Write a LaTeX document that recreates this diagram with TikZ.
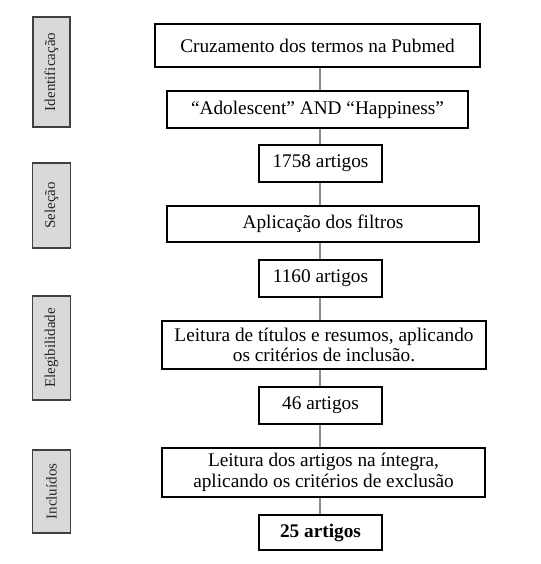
\documentclass[tikz,border=0pt]{standalone}
\usepackage{fontspec}
\setmainfont{Liberation Serif}
\definecolor{linkc}{RGB}{125,140,158}
\begin{document}
\begin{tikzpicture}[x=1pt,y=-1pt,
  mbox/.style={draw=black,line width=1.6pt,fill=white,inner sep=0pt,align=center,font=\fontsize{19.3}{22}\selectfont},
  sbox/.style={draw=black!75,line width=1.8pt,fill=black!15,inner sep=0pt},
  slabel/.style={rotate=90,font=\fontsize{15}{17}\selectfont,text=black!85},
  link/.style={draw=linkc,line width=1.4pt}]
\useasboundingbox (0,0) rectangle (540,564);
% side labels
\node[sbox,minimum width=37pt,minimum height=110pt] (s1) at (51.5,72) {};
\node[slabel] at (s1) {Identificação};
\node[sbox,minimum width=38pt,minimum height=85pt] (s2) at (51.5,205.5) {};
\node[slabel] at (s2) {Seleção};
\node[sbox,minimum width=38pt,minimum height=104pt] (s3) at (51.5,348) {};
\node[slabel] at (s3) {Elegibilidade};
\node[sbox,minimum width=38pt,minimum height=83pt] (s4) at (51.5,491.5) {};
\node[slabel] at (s4) {Incluídos};
% main boxes
\node[mbox,minimum width=325pt,minimum height=43pt] (b1) at (317.5,45.5) {Cruzamento dos termos na Pubmed};
\node[mbox,minimum width=301pt,minimum height=37pt] (b2) at (317.5,109.5) {“Adolescent” AND “Happiness”};
\node[mbox,minimum width=123pt,minimum height=37pt] (b3) at (320.5,163.5) {1758 artigos};
\node[mbox,minimum width=312pt,minimum height=36pt] (b4) at (323,224) {Aplicação dos filtros};
\node[mbox,minimum width=123pt,minimum height=37pt] (b5) at (320.5,278.5) {1160 artigos};
\node[mbox,minimum width=324pt,minimum height=48pt,font=\fontsize{19.3}{20.5}\selectfont] (b6) at (324,345) {Leitura de títulos e resumos, aplicando\\os critérios de inclusão.};
\node[mbox,minimum width=123pt,minimum height=37pt] (b7) at (320.5,405.5) {46 artigos};
\node[mbox,minimum width=323pt,minimum height=49pt,font=\fontsize{19.3}{20.5}\selectfont] (b8) at (323.5,472.5) {Leitura dos artigos na íntegra,\\aplicando os critérios de exclusão};
\node[mbox,minimum width=123pt,minimum height=35pt,font=\fontsize{19.3}{22}\selectfont\bfseries] (b9) at (320.5,532.5) {25 artigos};
% connectors
\foreach \a/\b in {b1/b2,b2/b3,b3/b4,b4/b5,b5/b6,b6/b7,b7/b8,b8/b9}
  \draw[link] (\a.south -| 320,0) -- (\b.north -| 320,0);
\end{tikzpicture}
\end{document}
